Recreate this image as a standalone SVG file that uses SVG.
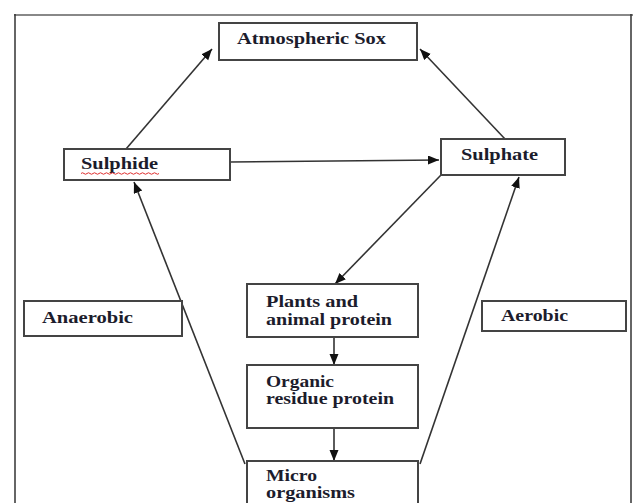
<svg xmlns="http://www.w3.org/2000/svg" width="633" height="503" viewBox="0 0 633 503">
  <defs>
    <marker id="ah" markerUnits="userSpaceOnUse" markerWidth="12" markerHeight="10" refX="11" refY="4.5" orient="auto">
      <path d="M0,0 L11,4.5 L0,9 z" fill="#111"/>
    </marker>
    <style>
      .box { fill: #fff; stroke: #444; stroke-width: 2; }
      .t { font-family: "Liberation Serif", "Times New Roman", serif; font-weight: bold; font-size: 16px; fill: #1c1c2c; }
      .c { stroke: #333; stroke-width: 1.6; fill: none; marker-end: url(#ah); }
    </style>
  </defs>
  <rect x="0" y="0" width="633" height="503" fill="#fff"/>
  <!-- frame -->
  <line x1="14" y1="15" x2="633" y2="15" stroke="#888" stroke-width="2"/>
  <line x1="15" y1="14" x2="15" y2="503" stroke="#333" stroke-width="1.5"/>
  <line x1="631" y1="14" x2="631" y2="503" stroke="#333" stroke-width="1.5"/>

  <g id="connectors">
    <line class="c" x1="126" y1="149" x2="212" y2="49"/>
    <line class="c" x1="505" y1="139" x2="420" y2="49"/>
    <line class="c" x1="230" y1="162" x2="439" y2="160"/>
    <line class="c" x1="441" y1="175" x2="335" y2="284"/>
    <line class="c" x1="334" y1="337" x2="334" y2="365"/>
    <line class="c" x1="334" y1="428" x2="334" y2="461"/>
    <line class="c" x1="245" y1="464" x2="134" y2="182"/>
    <line class="c" x1="420" y1="464" x2="519" y2="177"/>
  </g>

  <g id="atmospheric-sox">
    <rect class="box" x="219" y="23" width="198" height="37"/>
    <text class="t" x="237" y="44" textLength="149" lengthAdjust="spacingAndGlyphs">Atmospheric Sox</text>
  </g>
  <g id="sulphide">
    <rect class="box" x="64" y="149" width="166" height="31"/>
    <text class="t" x="81" y="169" textLength="77" lengthAdjust="spacingAndGlyphs">Sulphide</text>
    <path d="M81,173.5 q1.5,-1.5 3,0 t3,0 t3,0 t3,0 t3,0 t3,0 t3,0 t3,0 t3,0 t3,0 t3,0 t3,0 t3,0 t3,0 t3,0 t3,0 t3,0 t3,0 t3,0 t3,0 t3,0 t3,0 t3,0 t3,0 t3,0 t3,0" fill="none" stroke="#e03030" stroke-width="1"/>
  </g>
  <g id="sulphate">
    <rect class="box" x="441" y="139" width="124" height="36"/>
    <text class="t" x="461" y="160" textLength="77" lengthAdjust="spacingAndGlyphs">Sulphate</text>
  </g>
  <g id="anaerobic">
    <rect class="box" x="24" y="301" width="158" height="35"/>
    <text class="t" x="42" y="323" textLength="91" lengthAdjust="spacingAndGlyphs">Anaerobic</text>
  </g>
  <g id="aerobic">
    <rect class="box" x="482" y="301" width="144" height="30"/>
    <text class="t" x="501" y="321" textLength="67" lengthAdjust="spacingAndGlyphs">Aerobic</text>
  </g>
  <g id="plants-animal-protein">
    <rect class="box" x="247" y="284" width="171" height="53"/>
    <text class="t" x="266" y="307" textLength="92" lengthAdjust="spacingAndGlyphs">Plants and</text>
    <text class="t" x="266" y="325" textLength="126" lengthAdjust="spacingAndGlyphs">animal protein</text>
  </g>
  <g id="organic-residue-protein">
    <rect class="box" x="247" y="365" width="171" height="63"/>
    <text class="t" x="266" y="387" textLength="68" lengthAdjust="spacingAndGlyphs">Organic</text>
    <text class="t" x="266" y="404" textLength="128" lengthAdjust="spacingAndGlyphs">residue protein</text>
  </g>
  <g id="micro-organisms">
    <rect class="box" x="247" y="461" width="171" height="50"/>
    <text class="t" x="266" y="481" textLength="51" lengthAdjust="spacingAndGlyphs">Micro</text>
    <text class="t" x="266" y="498" textLength="89" lengthAdjust="spacingAndGlyphs">organisms</text>
  </g>
</svg>
